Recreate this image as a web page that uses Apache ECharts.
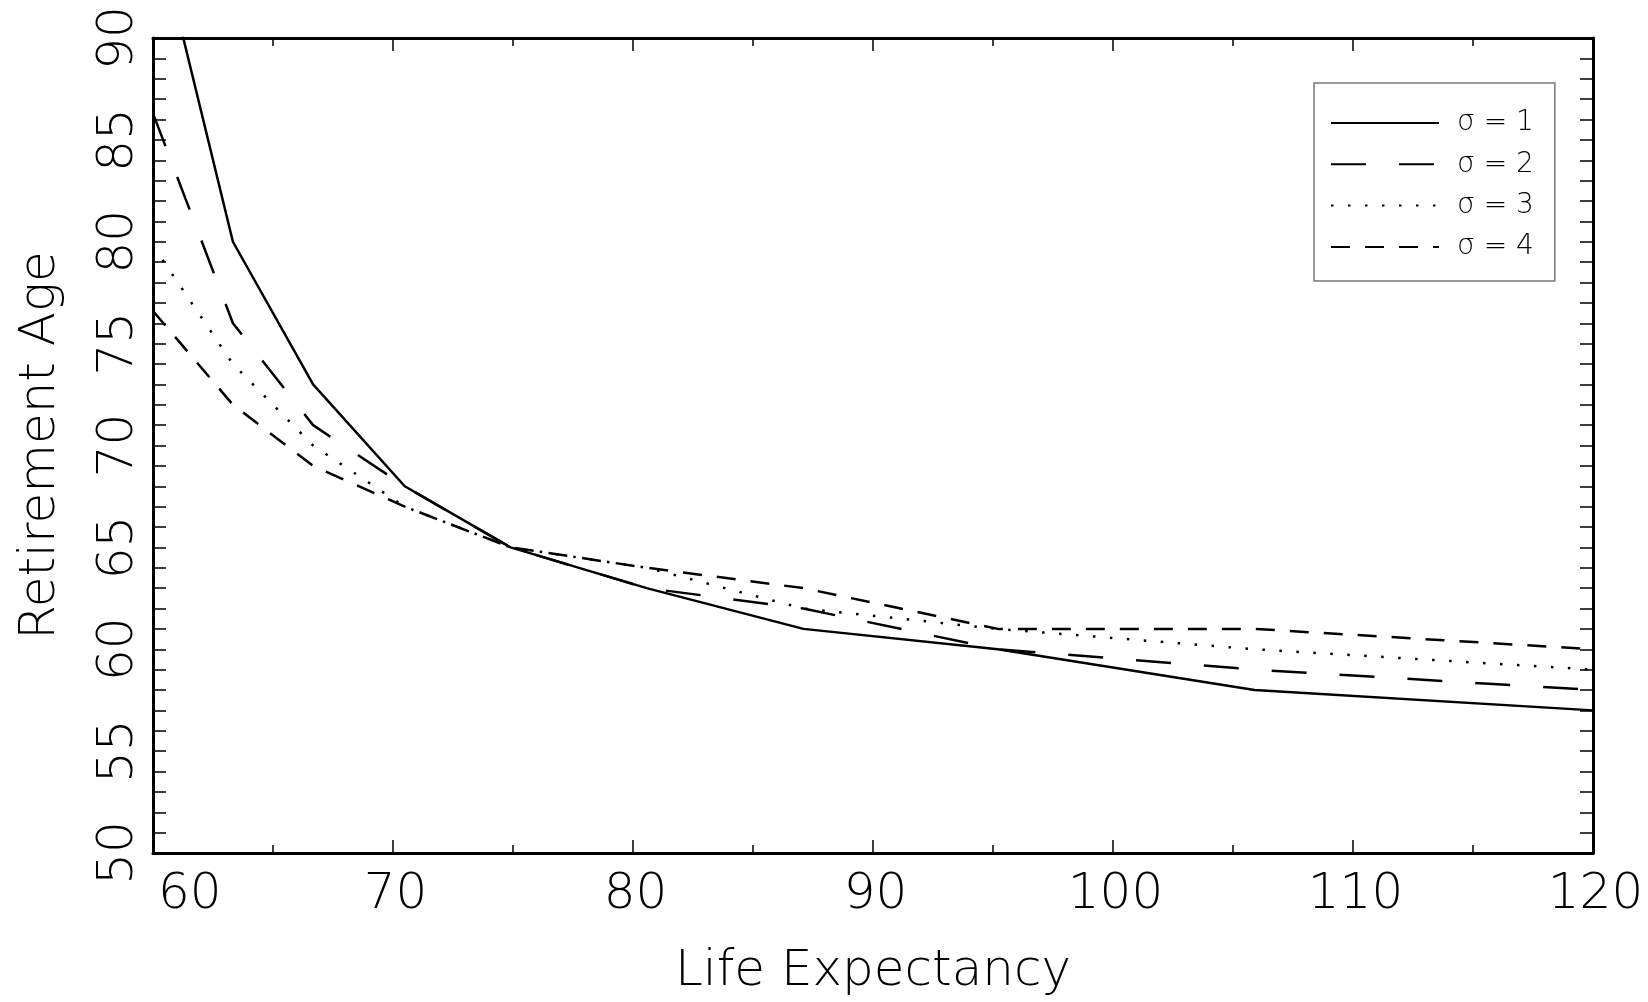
<!DOCTYPE html>
<html>
<head>
<meta charset="utf-8">
<script src="https://cdn.jsdelivr.net/npm/echarts@6/dist/echarts.min.js"></script>
<style>
html,body{margin:0;padding:0;background:#fff;}
#chart{width:1648px;height:1002px;}
</style>
</head>
<body>
<div id="chart"></div>
<script>
// Life expectancy (x) values
const lifeExpectancy = [60, 63.33, 66.67, 70.49, 74.9, 80.57, 87.1, 95.2, 105.9, 120];
// Retirement age for each sigma
const sigma1 = [96.1, 80, 73, 68, 65, 63, 61, 60, 58, 57];
const sigma2 = [86.3, 76, 71, 68, 65, 63, 62, 60, 59, 58];
const sigma3 = [79.8, 74, 70, 67, 65, 64, 62, 61, 60, 59];
const sigma4 = [76.6, 72, 69, 67, 65, 64, 63, 61, 61, 60];
const seriesNames = ['σ = 1', 'σ = 2', 'σ = 3', 'σ = 4'];
const xTickLabels = ['60', '70', '80', '90', '100', '110', '120'];
const yTickLabels = ['50', '55', '60', '65', '70', '75', '80', '85', '90'];

const FONT = '"DejaVu Sans ExtraLight", "DejaVu Sans"';
const FW = 200;
const zip = ys => lifeExpectancy.map((x, i) => [x, ys[i]]);
const dashes = ['solid', [35, 33], [2.5, 14.5], [19, 15]];
const allSeries = [sigma1, sigma2, sigma3, sigma4];

const chart = echarts.init(document.getElementById('chart'));

const tickStyle = { color: '#000', width: 1.5 };
const axisLine = { show: true, lineStyle: { color: '#000', width: 3 } };

chart.setOption({
  backgroundColor: '#fff',
  animation: false,
  grid: { left: 153, right: 55, top: 38, bottom: 148, containLabel: false },
  legend: {
    orient: 'vertical',
    left: 1314, top: 83,
    itemWidth: 108, itemHeight: 20, itemGap: 13.3,
    padding: [26, 21, 20, 16],
    borderColor: '#777', borderWidth: 1.5,
    itemStyle: { opacity: 0, borderWidth: 0 },
    textStyle: { fontFamily: FONT, fontWeight: FW, fontSize: 28, lineHeight: 20, color: '#000', padding: [0, 0, 0, 13], width: 76 },
    data: seriesNames
  },
  xAxis: [{
    type: 'value', min: 60, max: 120, interval: 10,
    name: 'Life Expectancy', nameLocation: 'middle', nameGap: 94,
    nameTextStyle: { fontFamily: FONT, fontWeight: FW, fontSize: 50, color: '#000' },
    axisLine: axisLine,
    axisTick: { show: true, inside: true, length: 13, lineStyle: tickStyle },
    minorTick: { show: true, splitNumber: 2, length: 8, lineStyle: tickStyle },
    splitLine: { show: false },
    axisLabel: {
      show: true, margin: 17, fontFamily: FONT, fontWeight: FW, fontSize: 50, color: '#000',
      alignMinLabel: 'left', padding: [0, 0, 0, 5],
      formatter: v => xTickLabels[xTickLabels.indexOf(String(v))] || ''
    }
  }, {
    type: 'value', min: 60, max: 120, interval: 10, position: 'top',
    axisLine: axisLine,
    axisTick: { show: true, inside: true, length: 13, lineStyle: tickStyle },
    minorTick: { show: true, splitNumber: 2, length: 8, lineStyle: tickStyle },
    splitLine: { show: false },
    axisLabel: { show: false }
  }],
  yAxis: [{
    type: 'value', min: 50, max: 90, interval: 5,
    name: 'Retirement Age', nameLocation: 'middle', nameGap: 87,
    nameTextStyle: { fontFamily: FONT, fontWeight: FW, fontSize: 50, color: '#000' },
    axisLine: axisLine,
    axisTick: { show: true, inside: true, length: 13, lineStyle: tickStyle },
    minorTick: { show: true, splitNumber: 5, length: 13, lineStyle: tickStyle },
    splitLine: { show: false },
    axisLabel: {
      show: true, rotate: 90, margin: 9, fontFamily: FONT, fontWeight: FW, fontSize: 50, color: '#000',
      formatter: v => yTickLabels[yTickLabels.indexOf(String(v))] || ''
    }
  }, {
    type: 'value', min: 50, max: 90, interval: 5, position: 'right',
    axisLine: axisLine,
    axisTick: { show: true, inside: true, length: 13, lineStyle: tickStyle },
    minorTick: { show: true, splitNumber: 5, length: 13, lineStyle: tickStyle },
    splitLine: { show: false },
    axisLabel: { show: false }
  }],
  series: allSeries.map((ys, i) => ({
    name: seriesNames[i],
    type: 'line',
    xAxisIndex: 0, yAxisIndex: 0,
    data: zip(ys),
    symbol: 'none',
    clip: true,
    lineStyle: { color: '#000', width: 2.5, type: dashes[i], cap: 'butt' },
    itemStyle: { color: '#000' },
    emphasis: { disabled: true }
  }))
});
</script>
</body>
</html>
